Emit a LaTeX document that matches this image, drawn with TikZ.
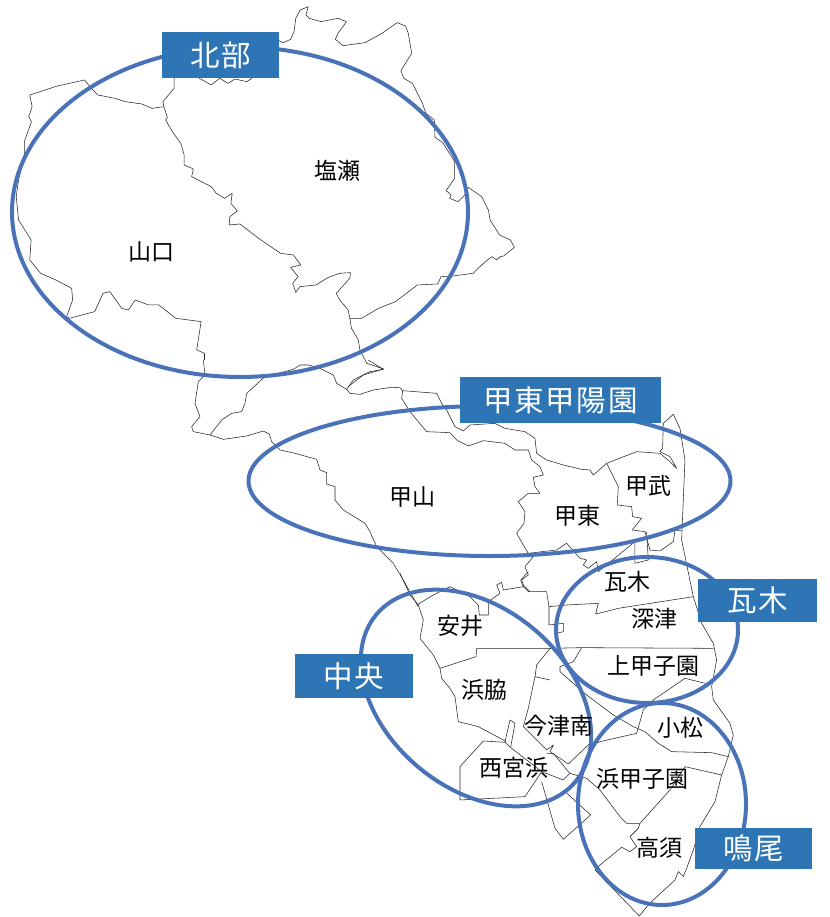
\documentclass[tikz,border=0pt]{standalone}
\usepackage{fontspec}
\newfontfamily\cjk{Noto Sans CJK JP}
\newfontfamily\cjkw[LetterSpace=6]{Noto Sans CJK JP}
\definecolor{ringblue}{HTML}{4A72B8}
\definecolor{tagblue}{HTML}{2E75B6}
\tikzset{
  mapline/.style={draw=black!85,line width=0.55pt,line join=round},
  ring/.style={draw=ringblue,line width=4pt},
  tag/.style={fill=tagblue,text=white,inner sep=0pt,anchor=center,font=\cjkw\fontsize{29.5}{30}\selectfont},
  place/.style={text=black,inner sep=0pt,font=\cjk\fontsize{23}{24}\selectfont},
  zoomA/.style={x=0.338pt,y=-0.3333pt},
  zoomB/.style={shift={(180,360)},x=0.3333pt,y=-0.3333pt},
  zoomC/.style={shift={(400,540)},x=0.3333pt,y=-0.3333pt}
}
\begin{document}
\begin{tikzpicture}[x=1pt,y=-1pt]
\useasboundingbox (0,0) rectangle (829,917);
% northern districts
\begin{scope}[zoomA]
\draw[mapline] (745,235)--(760,180)--(800,110)--(838,128)--(860,118)--(870,95)--(875,55)--(888,30)--(912,20)--(905,45)--(915,55)--(950,65)--(1000,55)--(1025,65)--(1000,100)--(992,118)--(1015,137)--(1080,128)--(1130,100)--(1175,68)--(1200,78)--(1208,100)--(1218,160)--(1186,212)--(1195,235)--(1220,250)--(1250,310)--(1260,340)--(1285,360)--(1287,412)--(1310,428)--(1345,485)--(1345,535)--(1320,572)--(1335,585)--(1330,595)--(1355,605)--(1375,585)--(1385,562)--(1425,590)--(1445,630)--(1450,660)--(1478,705)--(1510,720)--(1522,742)--(1490,768)--(1480,770)--(1470,780)--(1455,770)--(1430,790)--(1400,820)--(1340,828)--(1305,830)--(1295,852)--(1235,855)--(1170,905)--(1120,925)--(1070,955)--(1035,955);
\draw[mapline] (745,235)--(730,245)--(695,237)--(675,250)--(650,235)--(625,255)--(590,235)--(560,200)--(515,235)--(515,265)--(482,305)--(485,320);
\draw[mapline] (88,285)--(170,258)--(250,240)--(270,265)--(290,285)--(340,295)--(370,305)--(420,312)--(450,325)--(485,320)--(495,352)--(490,360)--(510,395)--(535,430)--(545,465)--(545,495)--(572,507)--(567,530)--(605,550)--(625,560)--(640,580)--(665,595)--(687,580)--(683,610)--(702,633)--(680,650)--(678,675)--(710,672)--(765,715)--(830,760)--(868,765)--(890,795)--(860,802)--(882,830)--(866,850)--(875,877)--(888,860)--(935,855)--(970,833)--(1005,820)--(1037,818)--(1035,835)--(995,880)--(1005,900)--(1030,930)--(1035,955)--(1040,985)--(1060,1020)--(1065,1050)--(1085,1090)--(1135,1107)--(1075,1125)--(1030,1160);
\draw[mapline] (88,285)--(95,320)--(85,350)--(93,365)--(72,425)--(72,465)--(55,540)--(48,590)--(55,660)--(92,720)--(88,780)--(120,820)--(165,840)--(212,865)--(215,900)--(197,950)--(205,955)--(280,935)--(305,880)--(325,875)--(360,925)--(380,930)--(400,900)--(440,915)--(470,915)--(520,955)--(595,965)--(582,1050)--(605,1060)--(605,1080);
\end{scope}
% middle band
\begin{scope}[zoomB]
\draw[mapline] (70,0)--(75,45)--(55,65)--(45,130)--(60,170)--(35,200)--(40,215)--(90,225)--(130,238)--(200,228)--(250,213)--(268,222)--(275,245)--(300,270)--(345,280)--(410,298)--(420,330)--(440,338)--(440,372)--(465,380)--(465,420)--(490,450)--(555,490)--(570,515)--(590,560)--(640,610)--(670,660)--(695,705)--(715,740);
\draw[mapline] (255,50)--(200,100)--(195,130)--(185,155)--(155,160)--(125,180)--(90,225);
\draw[mapline] (255,50)--(340,28)--(360,15)--(385,15)--(420,25)--(460,45)--(470,70)--(500,88)--(510,100)--(540,103)--(580,90)--(635,82)--(660,83)--(668,92)--(770,100)--(785,130)--(800,150)--(825,200)--(850,213)--(870,195)--(945,190)--(975,205)--(1035,215)--(1065,235)--(1070,280)--(1100,300)--(1150,315)--(1205,328)--(1230,330)--(1240,345)--(1280,310);
\draw[mapline] (500,88)--(520,60)--(570,35)--(610,28)--(565,0);
\draw[mapline] (668,92)--(665,115)--(690,155)--(740,215)--(810,218)--(830,240)--(865,258)--(910,242)--(975,250)--(1005,270)--(1045,270)--(1055,300)--(1080,320)--(1090,345)--(1060,352)--(1065,380)--(1080,400)--(1045,400)--(1015,425)--(1035,455)--(1032,490)--(1010,520)--(1030,555)--(1045,580)--(1060,590)--(1035,620)--(1045,645)--(1025,660)--(1030,675)--(1050,695);
\draw[mapline] (1045,580)--(1130,570)--(1160,550)--(1200,595)--(1220,600)--(1210,615)--(1225,625)--(1250,605)--(1255,635)--(1365,545);
\draw[mapline] (1280,310)--(1315,380)--(1312,435)--(1355,440)--(1358,470)--(1385,475)--(1357,510)--(1395,515)--(1410,570)--(1440,573)--(1480,545)--(1485,512)--(1505,512);
\draw[mapline] (1280,310)--(1370,275)--(1440,280)--(1470,305)--(1490,325)--(1470,290)--(1440,275)--(1448,265)--(1450,190)--(1480,163)--(1500,205)--(1515,300)--(1510,420)--(1505,540)--(1540,710);
\draw[mapline] (1365,545)--(1365,610)--(1405,600)--(1400,515);
\end{scope}
% southern districts
\begin{scope}[zoomC]
\draw[mapline] (880,170)--(905,250)--(940,310)--(950,360)--(935,440)--(940,480)--(990,550)--(1000,585)--(985,650)--(965,705)--(945,785)--(900,860)--(880,930)--(860,985)--(850,1010)--(835,995)--(825,1020)--(760,1080)--(745,1095)--(718,1128)--(585,990);
\draw[mapline] (0,100)--(30,165)--(55,195)--(70,240)--(60,295)--(100,345)--(120,385)--(125,415)--(150,445)--(165,470)--(175,545)--(235,560)--(310,600)--(318,605);
\draw[mapline] (50,195)--(100,165)--(150,140)--(210,170)--(235,195)--(238,225)--(265,225)--(265,185)--(300,160)--(290,135)--(305,127)--(310,150)--(370,140)--(385,155)--(440,155)--(447,200)--(447,255)--(490,250)--(490,275)--(470,280)--(480,320);
\draw[mapline] (370,140)--(362,120)--(385,95);
\draw[mapline] (447,200)--(500,195)--(595,190)--(587,222)--(655,205)--(880,170);
\draw[mapline] (120,385)--(228,350)--(230,325)--(450,325)--(545,323)--(940,325);
\draw[mapline] (450,325)--(410,375)--(405,410)--(450,420)--(405,410)--(385,505)--(370,560)--(440,630)--(460,615)--(450,635)--(505,672)--(570,610);
\draw[mapline] (545,323)--(520,365)--(480,380)--(480,395)--(560,465)--(640,525)--(700,560)--(735,575)--(775,610)--(815,635)--(935,638)--(985,650);
\draw[mapline] (855,415)--(760,480)--(730,510)--(710,580)--(600,605)--(570,620);
\draw[mapline] (855,415)--(915,430);
\draw[mapline] (855,680)--(965,705);
\draw[mapline] (855,680)--(810,750)--(720,850)--(680,850)--(660,830)--(600,750)--(560,715)--(510,700)--(490,720)--(425,695)--(335,625)--(315,607)--(250,603)--(180,680)--(180,780)--(375,770)--(425,695);
\draw[mapline] (720,850)--(715,865)--(690,890)--(710,920)--(690,935)--(665,922)--(600,975)--(585,990);
\draw[mapline] (315,605)--(330,540)--(345,550)--(332,622);
\draw[mapline] (440,640)--(460,640)--(505,695)--(510,700);
\draw[mapline] (425,725)--(465,865)--(490,898)--(572,825)--(490,750);
\end{scope}
% rings
\draw[ring] (240,212) ellipse [x radius=228pt,y radius=165pt];
\draw[ring] (489.5,481) ellipse [x radius=241pt,y radius=75pt];
\draw[ring] (647,630) ellipse [x radius=91pt,y radius=73pt];
\draw[ring] (662,804) ellipse [x radius=84pt,y radius=101pt];
\draw[ring,rotate around={-40:(476,698)}] (476,698) ellipse [x radius=130pt,y radius=90pt];
% tags
\node[tag,minimum width=117pt,minimum height=46pt] (north) at (220.5,55) {北部};
\node[tag,minimum width=201pt,minimum height=46pt] (koto) at (560.5,400) {甲東甲陽園};
\node[tag,minimum width=119pt,minimum height=43pt] (kawara) at (757.5,600.5) {瓦木};
\node[tag,minimum width=118pt,minimum height=44pt] (chuo) at (354,676) {中央};
\node[tag,minimum width=117pt,minimum height=41pt] (naruo) at (753.5,848.5) {鳴尾};
% district names
\node[place] (p1) at (337,171) {塩瀬};
\node[place] (p2) at (151,252) {山口};
\node[place] (p3) at (412,497) {甲山};
\node[place] (p4) at (577,516) {甲東};
\node[place] (p5) at (648,486) {甲武};
\node[place] (p6) at (627,582) {瓦木};
\node[place] (p7) at (654,619) {深津};
\node[place] (p8) at (653,666) {上甲子園};
\node[place] (p9) at (460,626) {安井};
\node[place] (p10) at (484,690) {浜脇};
\node[place] (p11) at (559,726) {今津南};
\node[place] (p12) at (514,768) {西宮浜};
\node[place] (p13) at (680,728) {小松};
\node[place] (p14) at (642,779) {浜甲子園};
\node[place] (p15) at (659,848) {高須};
\end{tikzpicture}
\end{document}
